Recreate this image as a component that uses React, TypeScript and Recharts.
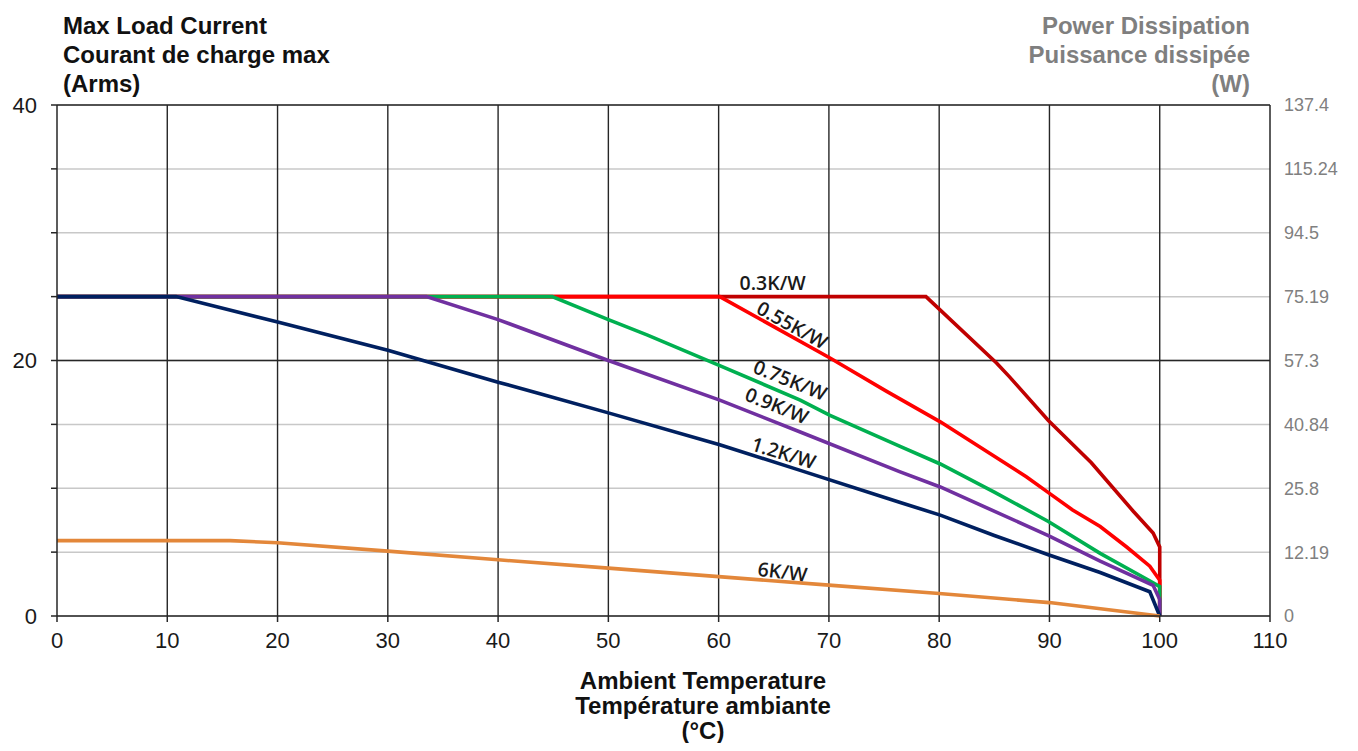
import { CartesianGrid, Line, LineChart, ReferenceDot, ReferenceLine, XAxis, YAxis } from 'recharts'

// ambient temperature (°C) / max load current (Arms) pairs
const curve03K = [[0, 25], [78.8, 25], [85.2, 19.8], [86.4, 18.7], [89.9, 15.3], [93.8, 12.0], [97.6, 8.2], [99.4, 6.5], [100, 5.4], [100, 0]]
const curve055K = [[0, 25], [60.1, 25], [70.1, 20.2], [75.2, 17.6], [80.1, 15.2], [85, 12.5], [87.9, 10.9], [90, 9.6], [92.1, 8.3], [94.6, 7.0], [97, 5.4], [99.1, 3.9], [100, 2.8], [100, 0]]
const curve075K = [[0, 25], [44.9, 25], [50, 23.2], [53.5, 22.0], [60.1, 19.6], [67.4, 16.9], [70.1, 15.7], [76.4, 13.3], [80.1, 11.9], [85, 9.7], [89.9, 7.4], [94.6, 4.9], [98.8, 2.9], [100, 2.3], [100, 0]]
const curve09K = [[0, 25], [33.5, 25], [40, 23.2], [50, 20.0], [60.1, 16.9], [67.4, 14.4], [76.4, 11.3], [80.1, 10.1], [89.9, 6.3], [94.6, 4.3], [99.4, 2.4], [100, 1.3], [100, 0]]
const curve12K = [[0, 25], [10.8, 25], [20.1, 23.0], [30, 20.8], [33.2, 20.0], [40, 18.3], [43.8, 17.4], [50, 15.9], [60.1, 13.4], [67.4, 11.4], [76.4, 8.9], [80.1, 7.9], [85, 6.3], [89.9, 4.8], [94.6, 3.4], [99.1, 1.9], [100, 0]]
const curve6K = [[0, 5.9], [15.7, 5.9], [20, 5.73], [30, 5.08], [40, 4.4], [50, 3.75], [60, 3.08], [70, 2.42], [80, 1.76], [90, 1.05], [100, 0]]

const tempTicks = [0, 10, 20, 30, 40, 50, 60, 70, 80, 90, 100, 110]
const currentTicks = [0, 5, 10, 15, 20, 25, 30, 35, 40]
const currentLabels = ['0', '', '', '', '20', '', '', '', '40']
const powerLabels = ['0', '12.19', '25.8', '40.84', '57.3', '75.19', '94.5', '115.24', '137.4']

const toPts = (c: number[][]) => c.map(([t, a]) => ({ t, a }))

const series = [
  { name: '0.3K/W', data: curve03K, color: '#C00000' },
  { name: '0.55K/W', data: curve055K, color: '#FF0000' },
  { name: '0.75K/W', data: curve075K, color: '#00B050' },
  { name: '0.9K/W', data: curve09K, color: '#7030A0' },
  { name: '1.2K/W', data: curve12K, color: '#002060' },
  { name: '6K/W', data: curve6K, color: '#E3873A' },
]

// where each curve name sits (data units) and its tilt
const curveTags = [
  { text: '0.3K/W', t: 64.9, a: 26.1, angle: 0 },
  { text: '0.55K/W', t: 66.7, a: 22.8, angle: 29 },
  { text: '0.75K/W', t: 66.5, a: 18.5, angle: 22 },
  { text: '0.9K/W', t: 65.3, a: 16.5, angle: 22 },
  { text: '1.2K/W', t: 65.9, a: 12.8, angle: 17 },
  { text: '6K/W', t: 65.8, a: 3.5, angle: 7 },
]

const sans = '"Liberation Sans", Arial, sans-serif'

export default function App() {
  return (
    <div style={{ position: 'relative', width: 1342, height: 743, marginBottom: -8, overflow: 'hidden', fontFamily: sans }}>
      <LineChart width={1342} height={743} margin={{ top: 97, right: 10, left: 9, bottom: 105 }}>
        <CartesianGrid vertical={false} stroke="#C8C8C8" strokeWidth={1.5} />
        {tempTicks.slice(1, -1).map((t) => (
          <ReferenceLine key={t} x={t} stroke="#262626" strokeWidth={1.4} />
        ))}
        <ReferenceLine y={20} stroke="#262626" strokeWidth={1.4} />
        <ReferenceLine y={40} stroke="#262626" strokeWidth={1.4} />
        <XAxis
          dataKey="t"
          type="number"
          domain={[0, 110]}
          ticks={tempTicks}
          allowDuplicatedCategory={false}
          height={30}
          tickSize={6}
          tickMargin={10}
          axisLine={{ stroke: '#262626', strokeWidth: 1.5 }}
          tickLine={{ stroke: '#262626', strokeWidth: 1.5 }}
          tick={{ fontSize: 22, fill: '#1a1a1a', fontFamily: sans }}
        />
        <YAxis
          type="number"
          domain={[0, 40]}
          ticks={currentTicks}
          width={40}
          tickSize={6}
          tickMargin={14}
          interval={0}
          tickFormatter={(v: number) => currentLabels[currentTicks.indexOf(v)]}
          axisLine={{ stroke: '#262626', strokeWidth: 1.5 }}
          tickLine={{ stroke: '#262626', strokeWidth: 1.5 }}
          tick={{ fontSize: 22, fill: '#1a1a1a', fontFamily: sans }}
        />
        <YAxis
          yAxisId="right"
          orientation="right"
          type="number"
          domain={[0, 40]}
          allowDataOverflow
          ticks={currentTicks}
          width={70}
          tickSize={6}
          tickMargin={8}
          interval={0}
          tickLine={false}
          tickFormatter={(v: number) => powerLabels[currentTicks.indexOf(v)]}
          axisLine={{ stroke: '#262626', strokeWidth: 1.5 }}
          tick={{ fontSize: 18, fill: '#808080', fontFamily: sans, textAnchor: 'start' }}
        />
        {series.map((s) => (
          <Line
            key={s.name}
            data={toPts(s.data)}
            dataKey="a"
            type="linear"
            stroke={s.color}
            strokeWidth={3.6}
            dot={false}
            activeDot={false}
            isAnimationActive={false}
          />
        ))}
        {curveTags.map((c) => (
          <ReferenceDot
            key={c.text}
            x={c.t}
            y={c.a}
            r={0}
            shape={(p: any) => (
              <text
                x={p.cx}
                y={p.cy}
                transform={`rotate(${c.angle}, ${p.cx}, ${p.cy})`}
                textAnchor="middle"
                dominantBaseline="central"
                fontFamily='"Open Sans", sans-serif'
                fontWeight={600}
                fontSize={19.5}
                fill="#1a1a1a"
              >
                {c.text}
              </text>
            )}
          />
        ))}
      </LineChart>
      <div style={{ position: 'absolute', left: 55, top: 2.5, fontSize: 24, fontWeight: 700, lineHeight: '29px', color: '#111' }}>
        Max Load Current
        <br />
        Courant de charge max
        <br />
        (Arms)
      </div>
      <div style={{ position: 'absolute', right: 100, top: 2.5, fontSize: 24, fontWeight: 700, lineHeight: '29px', color: '#7F7F7F', textAlign: 'right' }}>
        Power Dissipation
        <br />
        Puissance dissipée
        <br />
        (W)
      </div>
      <div style={{ position: 'absolute', left: 445, width: 500, top: 659.5, fontSize: 24, fontWeight: 700, lineHeight: '25px', color: '#111', textAlign: 'center' }}>
        Ambient Temperature
        <br />
        Température ambiante
        <br />
        (°C)
      </div>
    </div>
  )
}
